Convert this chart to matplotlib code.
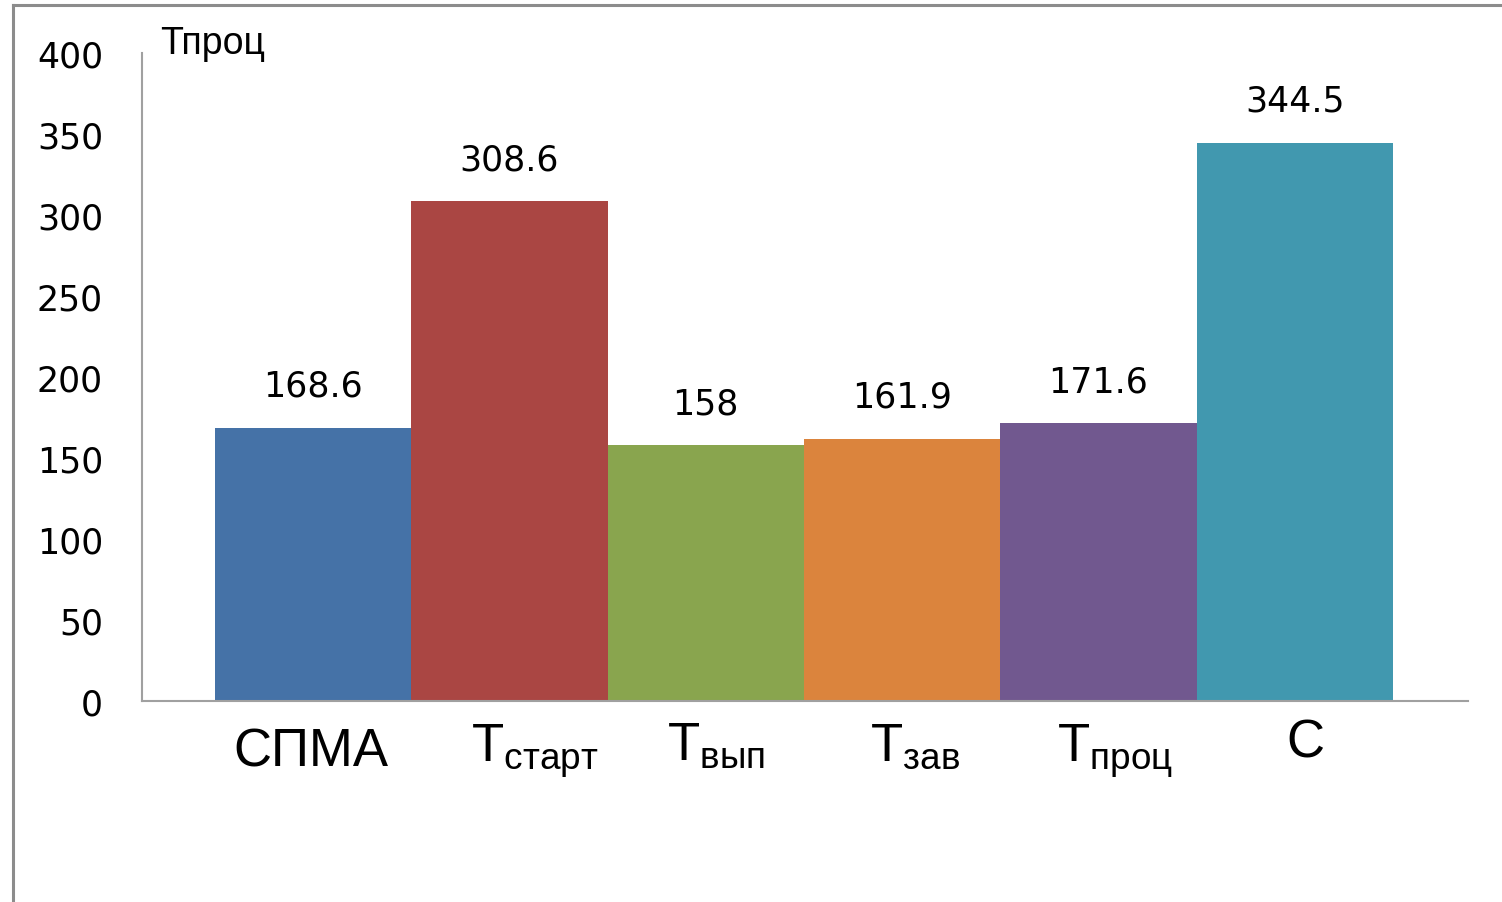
#!/usr/bin/env python3
import matplotlib
matplotlib.use("Agg")
import matplotlib.pyplot as plt
from matplotlib import rcParams
from matplotlib.lines import Line2D
from matplotlib.transforms import ScaledTranslation

# mathtext in Liberation Sans so that the Cyrillic subscripts render
rcParams['mathtext.fontset'] = 'custom'
rcParams['mathtext.rm'] = 'Liberation Sans'
rcParams['mathtext.it'] = 'Liberation Sans:italic'
rcParams['mathtext.bf'] = 'Liberation Sans:bold'


# Data.
categories = ["СПМА", "Тстарт", "Твып", "Тзав", "Тпроц", "С"]
tick_labels = [
    "СПМА",
    r"$\mathrm{Т}_{\mathrm{старт}}$",
    r"$\mathrm{Т}_{\mathrm{вып}}$",
    r"$\mathrm{Т}_{\mathrm{зав}}$",
    r"$\mathrm{Т}_{\mathrm{проц}}$",
    "С",
]
values = [168.6, 308.6, 158, 161.9, 171.6, 344.5]
colors = ["#4572A7", "#AA4643", "#89A54E", "#DB843D", "#71588F", "#4198AF"]
yticks = [0, 50, 100, 150, 200, 250, 300, 350, 400]

# small per-label nudges (pixels, right / down) to match the original layout
label_shift = [(-2, 12), (25, 6), (10, 6), (13, 6), (17, 6), (11, 3)]


W, H = 1502, 903
fig = plt.figure(figsize=(W / 100, H / 100), dpi=100)
ax = fig.add_axes([142 / W, 1 - 702 / H, (1468 - 142) / W, (702 - 54) / H])

x = list(range(len(categories)))
ax.bar(x, values, width=1.0, color=colors, zorder=2)

for xi, v in zip(x, values):
    ax.annotate(f"{v:g}", (xi, v), xytext=(0, 23), textcoords="offset points",
                ha="center", va="baseline", fontsize=25, family="DejaVu Sans")

ax.set_xlim(-0.5 - 0.372, len(categories) - 0.5 + 0.383)
ax.set_ylim(0, 400)
ax.set_yticks(yticks)
ax.set_yticklabels([str(t) for t in yticks], fontsize=25, family="DejaVu Sans")
ax.set_xticks(x)
ax.set_xticklabels(tick_labels, fontsize=38, family="Liberation Sans")
ax.tick_params(axis="y", length=0, pad=28)
ax.tick_params(axis="x", length=0, pad=10)

for lbl, (dx, dy) in zip(ax.get_xticklabels(), label_shift):
    lbl.set_transform(lbl.get_transform() +
                      ScaledTranslation(dx / 100, -dy / 100, fig.dpi_scale_trans))

for side in ("top", "right"):
    ax.spines[side].set_visible(False)
for side in ("left", "bottom"):
    ax.spines[side].set_color("#a0a0a0")
    ax.spines[side].set_linewidth(1.5)

# axis caption at the top left
fig.text(160 / W, 1 - 54 / H, "Тпроц", fontsize=27, family="Liberation Sans",
         ha="left", va="baseline")

# outer frame (top and left edges only are visible)
fig.add_artist(Line2D([13 / W, 1], [1 - 6 / H, 1 - 6 / H], color="#8c8c8c", lw=2.2))
fig.add_artist(Line2D([13 / W, 13 / W], [0, 1 - 6 / H], color="#8c8c8c", lw=2.2))

fig.savefig("out.png", dpi=100)
